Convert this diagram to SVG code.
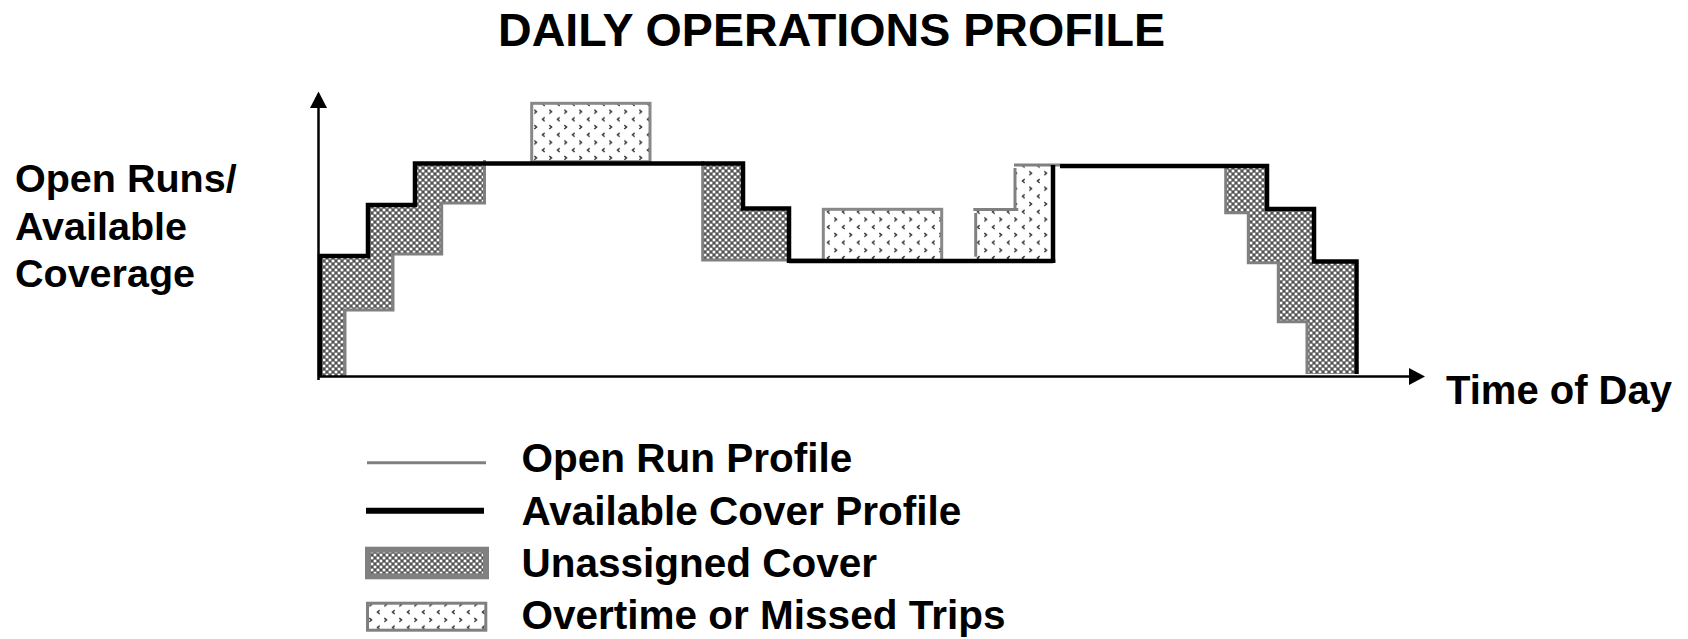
<svg xmlns="http://www.w3.org/2000/svg" width="1688" height="639" viewBox="0 0 1688 639">
<style>
.t{font-family:"Liberation Sans",Arial,sans-serif;font-weight:bold;fill:#000}
.gray{fill:none;stroke:#808080;stroke-width:3}
.blk{fill:none;stroke:#000;stroke-width:4.5;stroke-linejoin:miter}
.axis{fill:none;stroke:#000;stroke-width:2.5}
.hatch{fill:url(#hatch);stroke:none}
.dots{fill:url(#dots);stroke:none}
.dotbox{fill:url(#dots);stroke:#888;stroke-width:3}
</style>
<defs>
<pattern id="hatch" width="6" height="6" patternUnits="userSpaceOnUse">
<rect width="6" height="6" fill="#7c7c7c"/>
<circle cx="0" cy="0" r="1.3" fill="#fff"/><circle cx="6" cy="0" r="1.3" fill="#fff"/>
<circle cx="0" cy="6" r="1.3" fill="#fff"/><circle cx="6" cy="6" r="1.3" fill="#fff"/>
<circle cx="3" cy="3" r="1.3" fill="#fff"/>
<circle cx="3" cy="0" r="0.8" fill="#222"/><circle cx="0" cy="3" r="0.8" fill="#222"/>
<circle cx="6" cy="3" r="0.8" fill="#222"/><circle cx="3" cy="6" r="0.8" fill="#222"/>
</pattern>
<pattern id="dots" width="15" height="15.4" patternUnits="userSpaceOnUse">
<rect width="15" height="15.4" fill="#fff"/>
<path d="M9.3,2 L11.6,3.9 L9.3,5.8" fill="none" stroke="#333" stroke-width="1.4"/>
<path d="M4.7,9.7 L2.4,11.6 L4.7,13.5" fill="none" stroke="#333" stroke-width="1.4"/>
</pattern>
</defs>
<rect width="1688" height="639" fill="#fff"/>

<g id="title"><text class="t" x="498" y="45.5" font-size="46.6">DAILY OPERATIONS PROFILE</text></g>

<g id="y-label">
<text class="t" x="15" y="192" font-size="39.5">Open Runs/</text>
<text class="t" x="15" y="239.5" font-size="39.5">Available</text>
<text class="t" x="15" y="287" font-size="39.5">Coverage</text>
</g>
<g id="x-label"><text class="t" x="1446" y="404" font-size="40">Time of Day</text></g>

<g id="unassigned-areas">
<path class="hatch" d="M320,256 H368 V205 H415 V163.5 H484 V203 H441.7 V254 H393 V310 H345 V376 H320 Z"/>
<path class="hatch" d="M702.7,163.5 H743 V208.5 H787 V260 H702.7 Z"/>
<path class="hatch" d="M1225.7,166 H1267 V209 H1314 V261.5 H1354 V374 H1307 V321.7 H1278.3 V262.7 H1248.3 V212.7 H1225.7 Z"/>
</g>

<g id="overtime-areas">
<rect class="dotbox" x="531.7" y="103.3" width="118.3" height="58.4"/>
<rect class="dotbox" x="823.3" y="209.3" width="118.4" height="52"/>
<path class="dots" d="M975.7,261 V209 H1016 V166 H1053 V261 Z"/>
</g>

<g id="open-run-profile">
<path class="gray" d="M345,376 V310 H393 V254 H441.7 V203 H484.5 V160"/>
<path class="gray" d="M702.7,161 V260 H823.3"/>
<path class="gray" d="M941.7,261 H975.7"/>
<path class="gray" d="M975.7,256.7 V213"/>
<path class="gray" d="M973.3,209.5 H1018.3"/>
<path class="gray" d="M1015,209 V168"/>
<path class="gray" d="M1014,165 H1060"/>
<path class="gray" d="M1225.7,166 V212.7 H1248.3 V262.7 H1278.3 V321.7 H1307 V374"/>
</g>

<g id="available-cover-profile">
<path class="blk" d="M320,376 V256 H368 V205 H415 V163.5 H743 V208.5 H789 V263"/>
<path class="blk" d="M789,261 H1053 V263" stroke-width="4"/>
<path class="blk" d="M1053,263 V165" stroke-width="4"/>
<path class="blk" d="M1060,166 H1267 V209 H1314 V261.5 H1356.5 V374"/>
</g>

<g id="axes">
<path class="axis" d="M318.5,380 V106"/>
<polygon points="318.5,91.5 310,108 327,108" fill="#000"/>
<path class="axis" d="M318,376.5 H1411"/>
<polygon points="1425,376.5 1409,368 1409,385" fill="#000"/>
</g>

<g id="legend">
<g id="legend-open-run">
<line x1="367" y1="462.7" x2="486" y2="462.7" stroke="#808080" stroke-width="3"/>
<text class="t" x="521.5" y="472" font-size="40.5">Open Run Profile</text>
</g>
<g id="legend-available">
<line x1="366" y1="510.7" x2="484" y2="510.7" stroke="#000" stroke-width="6"/>
<text class="t" x="521.5" y="525" font-size="40.5">Available Cover Profile</text>
</g>
<g id="legend-unassigned">
<rect x="368" y="549.7" width="118" height="26.6" fill="url(#hatch)" stroke="#808080" stroke-width="6"/>
<text class="t" x="521.5" y="577" font-size="40.5">Unassigned Cover</text>
</g>
<g id="legend-overtime">
<rect x="367.5" y="603.2" width="118.3" height="27" fill="url(#dots)" stroke="#808080" stroke-width="3"/>
<text class="t" x="521.5" y="628.5" font-size="40.5">Overtime or Missed Trips</text>
</g>
</g>
</svg>
